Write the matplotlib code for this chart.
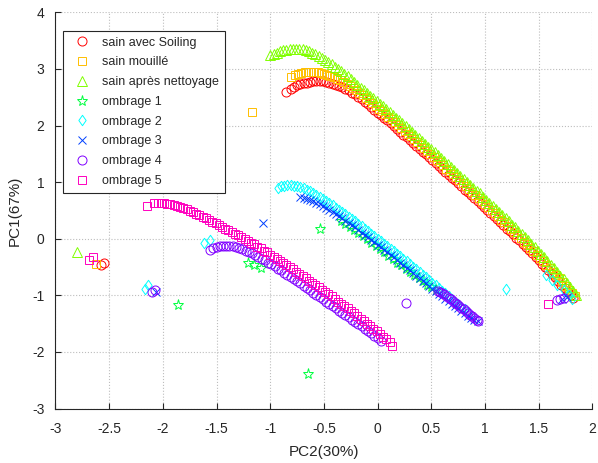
import matplotlib
matplotlib.use("Agg")
import matplotlib.pyplot as plt
from matplotlib.path import Path

plt.rcParams['font.family'] = ['Liberation Sans', 'DejaVu Sans']

labels = ["sain avec Soiling", "sain mouillé", "sain après nettoyage", "ombrage 1",
          "ombrage 2", "ombrage 3", "ombrage 4", "ombrage 5"]

# sain avec Soiling (red circles)
soil_x = [-2.58, -2.55,
          -0.85, -0.81, -0.78, -0.75, -0.72, -0.69, -0.66, -0.63, -0.60, -0.57, -0.54, -0.51, -0.48,
          -0.45, -0.42, -0.39, -0.36, -0.33, -0.30, -0.27, -0.24, -0.21, -0.18, -0.15, -0.12, -0.09,
          -0.06, -0.03, 0.00, 0.03, 0.06, 0.09, 0.12, 0.15, 0.18, 0.21, 0.24, 0.27, 0.30, 0.33, 0.36,
          0.39, 0.42, 0.45, 0.48, 0.51, 0.54, 0.57, 0.60, 0.63, 0.66, 0.69, 0.72, 0.75, 0.78, 0.81,
          0.84, 0.87, 0.90, 0.93, 0.96, 0.99, 1.02, 1.05, 1.08, 1.11, 1.14, 1.17, 1.20, 1.23, 1.26,
          1.29, 1.32, 1.35, 1.38, 1.41, 1.44, 1.47, 1.50, 1.53, 1.56, 1.59, 1.62, 1.65, 1.68, 1.71,
          1.74, 1.77, 1.80, 1.82]
soil_y = [-0.47, -0.42,
          2.59, 2.65, 2.68, 2.71, 2.73, 2.75, 2.76, 2.77, 2.78, 2.78, 2.78, 2.78, 2.77,
          2.76, 2.74, 2.72, 2.70, 2.68, 2.65, 2.62, 2.58, 2.55, 2.51, 2.47, 2.42, 2.38,
          2.33, 2.28, 2.23, 2.19, 2.14, 2.09, 2.04, 1.99, 1.94, 1.89, 1.84, 1.79, 1.74, 1.69, 1.64,
          1.59, 1.54, 1.49, 1.44, 1.39, 1.34, 1.29, 1.23, 1.18, 1.13, 1.08, 1.03, 0.98, 0.93, 0.87,
          0.82, 0.77, 0.72, 0.66, 0.61, 0.56, 0.51, 0.45, 0.40, 0.35, 0.29, 0.24, 0.18, 0.13, 0.08,
          0.02, -0.03, -0.09, -0.15, -0.20, -0.26, -0.32, -0.38, -0.44, -0.50, -0.56, -0.62, -0.68, -0.74,
          -0.81, -0.87, -0.94, -1.00, -1.04]

# sain mouillé (orange squares)
wet_x = [-2.62, -1.17,
         -0.81, -0.77, -0.74, -0.71, -0.68, -0.65, -0.62, -0.59, -0.56, -0.53, -0.50, -0.47, -0.44,
         -0.41, -0.38, -0.35, -0.32, -0.29, -0.26, -0.23, -0.20, -0.17, -0.14, -0.11, -0.08, -0.05,
         -0.02, 0.01, 0.04, 0.07, 0.10, 0.13, 0.16, 0.19, 0.22, 0.25, 0.28, 0.31, 0.34, 0.37, 0.40,
         0.43, 0.46, 0.49, 0.52, 0.55, 0.58, 0.61, 0.64, 0.67, 0.70, 0.73, 0.76, 0.79, 0.82, 0.85,
         0.88, 0.91, 0.94, 0.97, 1.00, 1.03, 1.06, 1.09, 1.12, 1.15, 1.18, 1.21, 1.24, 1.27, 1.30,
         1.33, 1.36, 1.39, 1.42, 1.45, 1.48, 1.51, 1.54, 1.57, 1.60, 1.63, 1.66, 1.69, 1.72, 1.75,
         1.78, 1.81, 1.84]
wet_y = [-0.44, 2.24,
         2.85, 2.89, 2.91, 2.93, 2.94, 2.95, 2.95, 2.95, 2.94, 2.93, 2.92, 2.90, 2.88,
         2.86, 2.83, 2.80, 2.77, 2.74, 2.70, 2.66, 2.62, 2.58, 2.54, 2.49, 2.45, 2.40,
         2.35, 2.30, 2.26, 2.21, 2.16, 2.11, 2.06, 2.01, 1.96, 1.91, 1.86, 1.81, 1.76, 1.71, 1.66,
         1.60, 1.55, 1.50, 1.45, 1.40, 1.35, 1.30, 1.24, 1.19, 1.14, 1.09, 1.04, 0.98, 0.93, 0.88,
         0.83, 0.77, 0.72, 0.67, 0.61, 0.56, 0.51, 0.45, 0.40, 0.34, 0.29, 0.23, 0.18, 0.12, 0.07,
         0.01, -0.05, -0.10, -0.16, -0.22, -0.28, -0.34, -0.40, -0.46, -0.52, -0.58, -0.64, -0.70, -0.77,
         -0.83, -0.90, -0.96, -1.01]

# sain après nettoyage (yellow-green triangles)
clean_x = [-2.80,
           -1.00, -0.97, -0.94, -0.91, -0.88, -0.85, -0.82, -0.79, -0.76, -0.73, -0.70, -0.67, -0.64,
           -0.61, -0.58, -0.55, -0.52, -0.49, -0.46, -0.43, -0.40, -0.37, -0.34, -0.31, -0.28, -0.25,
           -0.22, -0.19, -0.16, -0.13, -0.10, -0.07, -0.04, -0.01, 0.02, 0.05, 0.08, 0.11, 0.14, 0.17,
           0.20, 0.23, 0.26, 0.29, 0.32, 0.35, 0.38, 0.41, 0.44, 0.47, 0.50, 0.53, 0.56, 0.59, 0.62,
           0.65, 0.68, 0.71, 0.74, 0.77, 0.80, 0.83, 0.86, 0.89, 0.92, 0.95, 0.98, 1.01, 1.04, 1.07,
           1.10, 1.13, 1.16, 1.19, 1.22, 1.25, 1.28, 1.31, 1.34, 1.37, 1.40, 1.43, 1.46, 1.49, 1.52,
           1.55, 1.58, 1.61, 1.64, 1.67, 1.70, 1.73, 1.76, 1.79, 1.82, 1.85]
clean_y = [-0.24,
           3.24, 3.27, 3.29, 3.31, 3.33, 3.34, 3.35, 3.36, 3.36, 3.36, 3.35, 3.33, 3.31,
           3.29, 3.26, 3.23, 3.20, 3.16, 3.12, 3.08, 3.04, 3.00, 2.96, 2.91, 2.87, 2.82,
           2.77, 2.72, 2.67, 2.62, 2.58, 2.53, 2.48, 2.43, 2.38, 2.34, 2.29, 2.24, 2.19, 2.14,
           2.09, 2.04, 1.99, 1.94, 1.88, 1.83, 1.78, 1.73, 1.68, 1.63, 1.58, 1.53, 1.48, 1.42, 1.37,
           1.32, 1.27, 1.22, 1.16, 1.11, 1.06, 1.01, 0.95, 0.90, 0.85, 0.80, 0.74, 0.69, 0.64, 0.58,
           0.53, 0.47, 0.42, 0.36, 0.31, 0.25, 0.20, 0.14, 0.08, 0.03, -0.03, -0.09, -0.15, -0.21, -0.27,
           -0.33, -0.39, -0.46, -0.52, -0.59, -0.65, -0.72, -0.79, -0.86, -0.93, -1.00]

# ombrage 1 (green stars)
omb1_x = [-1.86, -0.65, -0.54, -1.21, -1.15, -1.09,
          -0.34, -0.30, -0.26, -0.22, -0.18, -0.14, -0.10, -0.06, -0.02, 0.02, 0.06, 0.10, 0.14,
          0.18, 0.22, 0.26, 0.30, 0.34, 0.38, 0.42, 0.46, 0.50, 0.54]
omb1_y = [-1.17, -2.39, 0.18, -0.42, -0.47, -0.52,
          0.31, 0.26, 0.21, 0.15, 0.10, 0.04, -0.01, -0.07, -0.13, -0.18, -0.24, -0.30, -0.36,
          -0.42, -0.47, -0.53, -0.58, -0.64, -0.70, -0.75, -0.81, -0.86, -0.91]

# ombrage 2 (cyan diamonds)
omb2_x = [-2.17, -2.14, -1.62, -1.56, 1.19, 1.57, 1.62, 1.67, 1.73, 1.78, 1.81,
          -0.93, -0.90, -0.87, -0.84, -0.81, -0.78, -0.75, -0.72, -0.69, -0.66, -0.63, -0.60, -0.57,
          -0.54, -0.51, -0.48, -0.45, -0.42, -0.39, -0.36, -0.33, -0.30, -0.27, -0.24, -0.21, -0.18,
          -0.15, -0.12, -0.09, -0.06, -0.03, 0.00, 0.03, 0.06, 0.09, 0.12, 0.15, 0.18, 0.21, 0.24,
          0.27, 0.30, 0.33, 0.36, 0.39, 0.42, 0.45, 0.48, 0.51, 0.54, 0.57, 0.60, 0.63, 0.66, 0.69,
          0.72, 0.75, 0.78, 0.81, 0.84]
omb2_y = [-0.88, -0.82, -0.07, -0.03, -0.88, -0.64, -0.73, -0.82, -0.91, -1.00, -1.06,
          0.90, 0.93, 0.94, 0.95, 0.95, 0.94, 0.93, 0.91, 0.89, 0.87, 0.84, 0.81, 0.78,
          0.74, 0.71, 0.67, 0.63, 0.59, 0.55, 0.51, 0.47, 0.43, 0.39, 0.35, 0.31, 0.26,
          0.22, 0.18, 0.13, 0.09, 0.05, 0.00, -0.04, -0.09, -0.13, -0.18, -0.22, -0.27, -0.31, -0.36,
          -0.40, -0.45, -0.50, -0.54, -0.59, -0.64, -0.68, -0.73, -0.78, -0.82, -0.87, -0.92, -0.96, -1.01, -1.06,
          -1.11, -1.15, -1.20, -1.25, -1.30]

# ombrage 3 (blue crosses)
omb3_x = [-2.06, -1.07, 1.72, 1.76,
          -0.72, -0.69, -0.66, -0.63, -0.60, -0.57, -0.54, -0.51, -0.48, -0.45, -0.42, -0.39, -0.36,
          -0.33, -0.30, -0.27, -0.24, -0.21, -0.18, -0.15, -0.12, -0.09, -0.06, -0.03, 0.00, 0.03,
          0.06, 0.09, 0.12, 0.15, 0.18, 0.21, 0.24, 0.27, 0.30, 0.33, 0.36, 0.39, 0.42, 0.45, 0.48,
          0.51, 0.54, 0.57, 0.60, 0.63, 0.66, 0.69, 0.72, 0.75, 0.78, 0.81, 0.84, 0.87, 0.90, 0.93]
omb3_y = [-0.94, 0.27, -1.06, -1.03,
          0.73, 0.72, 0.71, 0.69, 0.67, 0.64, 0.61, 0.58, 0.55, 0.51, 0.48, 0.44, 0.40,
          0.36, 0.32, 0.28, 0.24, 0.20, 0.16, 0.11, 0.07, 0.03, -0.02, -0.06, -0.11, -0.15,
          -0.20, -0.24, -0.29, -0.33, -0.38, -0.42, -0.47, -0.51, -0.56, -0.60, -0.65, -0.70, -0.74, -0.79, -0.83,
          -0.88, -0.92, -0.97, -1.01, -1.06, -1.10, -1.15, -1.19, -1.23, -1.28, -1.32, -1.36, -1.40, -1.43, -1.46]

# ombrage 4 (purple circles)
omb4_x = [-2.10, -2.07, 0.26, 1.67, 1.70, 1.73,
          -1.56, -1.53, -1.50, -1.47, -1.44, -1.41, -1.38, -1.35, -1.32, -1.29, -1.26, -1.23, -1.20,
          -1.17, -1.14, -1.11, -1.08, -1.05, -1.02, -0.99, -0.96, -0.93, -0.90, -0.87, -0.84, -0.81,
          -0.78, -0.75, -0.72, -0.69, -0.66, -0.63, -0.60, -0.57, -0.54, -0.51, -0.48, -0.45, -0.42,
          -0.39, -0.36, -0.33, -0.30, -0.27, -0.24, -0.21, -0.18, -0.15, -0.12, -0.09, -0.06, -0.03,
          0.00, 0.03,
          0.56, 0.58, 0.60, 0.62, 0.64, 0.66, 0.68, 0.70, 0.72, 0.74, 0.76, 0.78, 0.80, 0.82, 0.84,
          0.86, 0.88, 0.90, 0.92, 0.93]
omb4_y = [-0.94, -0.91, -1.13, -1.09, -1.07, -1.05,
          -0.19, -0.16, -0.14, -0.13, -0.12, -0.12, -0.12, -0.13, -0.15, -0.16, -0.18, -0.21, -0.23,
          -0.26, -0.29, -0.32, -0.35, -0.38, -0.42, -0.45, -0.49, -0.53, -0.56, -0.60, -0.64, -0.68,
          -0.71, -0.75, -0.79, -0.83, -0.87, -0.91, -0.95, -0.99, -1.03, -1.07, -1.11, -1.15, -1.19,
          -1.23, -1.27, -1.31, -1.35, -1.39, -1.43, -1.47, -1.51, -1.55, -1.59, -1.63, -1.67, -1.71,
          -1.75, -1.80,
          -0.93, -0.94, -0.96, -0.98, -1.01, -1.04, -1.07, -1.10, -1.13, -1.16, -1.19, -1.22, -1.25, -1.28, -1.31,
          -1.34, -1.37, -1.40, -1.43, -1.46]

# ombrage 5 (magenta squares)
omb5_x = [-2.69, -2.65, 1.59,
          -2.15, -2.08, -2.05, -2.02, -1.99, -1.96, -1.93, -1.90, -1.87, -1.84, -1.81, -1.78, -1.75,
          -1.72, -1.69, -1.66, -1.63, -1.60, -1.57, -1.54, -1.51, -1.48, -1.45, -1.42, -1.39, -1.36,
          -1.33, -1.30, -1.27, -1.24, -1.21, -1.18, -1.15, -1.12, -1.09, -1.06, -1.03, -1.00, -0.97,
          -0.94, -0.91, -0.88, -0.85, -0.82, -0.79, -0.76, -0.73, -0.70, -0.67, -0.64, -0.61, -0.58,
          -0.55, -0.52, -0.49, -0.46, -0.43, -0.40, -0.37, -0.34, -0.31, -0.28, -0.25, -0.22, -0.19,
          -0.16, -0.13, -0.10, -0.07, -0.04, -0.01, 0.02, 0.05, 0.08, 0.11, 0.13]
omb5_y = [-0.37, -0.33, -1.15,
          0.57, 0.63, 0.63, 0.63, 0.63, 0.62, 0.61, 0.59, 0.57, 0.56, 0.54, 0.52, 0.49,
          0.47, 0.44, 0.42, 0.39, 0.36, 0.33, 0.30, 0.27, 0.24, 0.21, 0.18, 0.15, 0.12,
          0.09, 0.06, 0.03, 0.00, -0.04, -0.07, -0.10, -0.14, -0.17, -0.21, -0.24, -0.28, -0.32,
          -0.35, -0.39, -0.43, -0.47, -0.50, -0.54, -0.58, -0.62, -0.66, -0.70, -0.74, -0.78, -0.82,
          -0.86, -0.90, -0.94, -0.98, -1.02, -1.06, -1.11, -1.15, -1.19, -1.23, -1.28, -1.32, -1.36,
          -1.41, -1.45, -1.50, -1.54, -1.59, -1.63, -1.68, -1.73, -1.77, -1.83, -1.90]

x_ticks = [-3, -2.5, -2, -1.5, -1, -0.5, 0, 0.5, 1, 1.5, 2]
x_ticklabels = ["-3", "-2.5", "-2", "-1.5", "-1", "-0.5", "0", "0.5", "1", "1.5", "2"]
y_ticks = [-3, -2, -1, 0, 1, 2, 3, 4]
y_ticklabels = ["-3", "-2", "-1", "0", "1", "2", "3", "4"]

colors = [(1, 0, 0), (1, 0.75, 0), (0.5, 1, 0), (0, 1, 0.25),
          (0, 1, 1), (0, 0.25, 1), (0.5, 0, 1), (1, 0, 0.75)]

diamond = Path([(0, 1), (0.7, 0), (0, -1), (-0.7, 0), (0, 1)],
               [Path.MOVETO, Path.LINETO, Path.LINETO, Path.LINETO, Path.CLOSEPOLY])

series = [(soil_x, soil_y), (wet_x, wet_y), (clean_x, clean_y), (omb1_x, omb1_y),
          (omb2_x, omb2_y), (omb3_x, omb3_y), (omb4_x, omb4_y), (omb5_x, omb5_y)]
markers = ['o', 's', '^', '*', diamond, 'x', 'o', 's']
sizes = [6.5, 5.5, 7, 8, 7.5, 6, 6.5, 5.5]

fig = plt.figure(figsize=(5.98, 4.63), dpi=100)
ax = fig.add_axes([0.0928, 0.1177, 0.898, 0.8555])

for (xs, ys), lab, c, m, s in zip(series, labels, colors, markers, sizes):
    ax.plot(xs, ys, linestyle='none', marker=m, markersize=s, markerfacecolor='none',
            markeredgecolor=c, markeredgewidth=0.7, label=lab)

ax.set_xlim(-3, 2)
ax.set_ylim(-3, 4)
ax.set_xticks(x_ticks)
ax.set_xticklabels(x_ticklabels)
ax.set_yticks(y_ticks)
ax.set_yticklabels(y_ticklabels)
ax.grid(True, linestyle=':', color='#bdbdbd', linewidth=0.8)
ax.set_axisbelow(True)
for sp in ['top', 'right']:
    ax.spines[sp].set_visible(False)
for sp in ['left', 'bottom']:
    ax.spines[sp].set_color('#262626')
    ax.spines[sp].set_linewidth(0.8)
ax.tick_params(direction='in', length=4, width=0.8, colors='#262626', labelsize=10)
ax.tick_params(axis='x', pad=10)
ax.tick_params(axis='y', pad=8)

ax.set_xlabel("PC2(30%)", fontsize=11, color='#262626', labelpad=6)
ax.set_ylabel("PC1(67%)", fontsize=11, color='#262626', labelpad=7)

leg = ax.legend(loc='upper left', bbox_to_anchor=(0.0134, 0.953), borderaxespad=0,
                fontsize=9, numpoints=1, fancybox=False, framealpha=1, edgecolor='#262626',
                borderpad=0.45, handlelength=2.2, handletextpad=0.5, labelspacing=0.62)
leg.get_frame().set_linewidth(0.8)
for t in leg.get_texts():
    t.set_color('#262626')

fig.savefig("out.png", dpi=100)
